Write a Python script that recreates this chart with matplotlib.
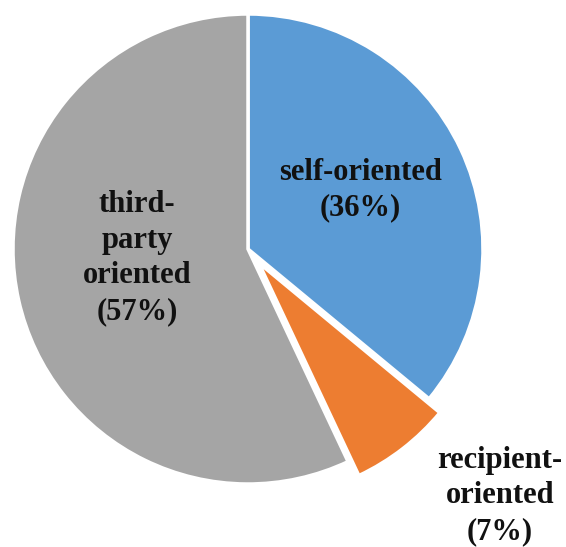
import matplotlib.pyplot as plt

# share of each orientation, clockwise from 12 o'clock
labels = ["self-oriented\n(36%)", "recipient-\noriented\n(7%)", "third-\nparty\noriented\n(57%)"]
shares = [36, 7, 57]
colors = ["#5B9BD5", "#ED7D31", "#A5A5A5"]
explode = [0, 0.075, 0]

# label anchors in pie units (radius = 1)
label_pos = [(0.477, 0.251), (1.072, -1.051), (-0.472, -0.038)]

plt.rcParams['font.family'] = ['Liberation Serif', 'DejaVu Serif']

fig = plt.figure(figsize=(5.66, 5.47), dpi=100)
ax = fig.add_axes([0, 0, 1, 1])

wedges, _ = ax.pie(shares, colors=colors, explode=explode, startangle=90,
                   counterclock=False, radius=1,
                   wedgeprops=dict(edgecolor="white", linewidth=2.5))

for lab, (x, y) in zip(labels, label_pos):
    ax.text(x, y, lab, ha="center", va="center", fontsize=22,
            fontweight="bold", color="#111111", linespacing=1.3)

ax.set_xlim(-1.0553, 1.3532)
ax.set_ylim(-1.2681, 1.0596)
ax.set_aspect("equal")
ax.axis("off")

fig.savefig("out.png", dpi=100)
